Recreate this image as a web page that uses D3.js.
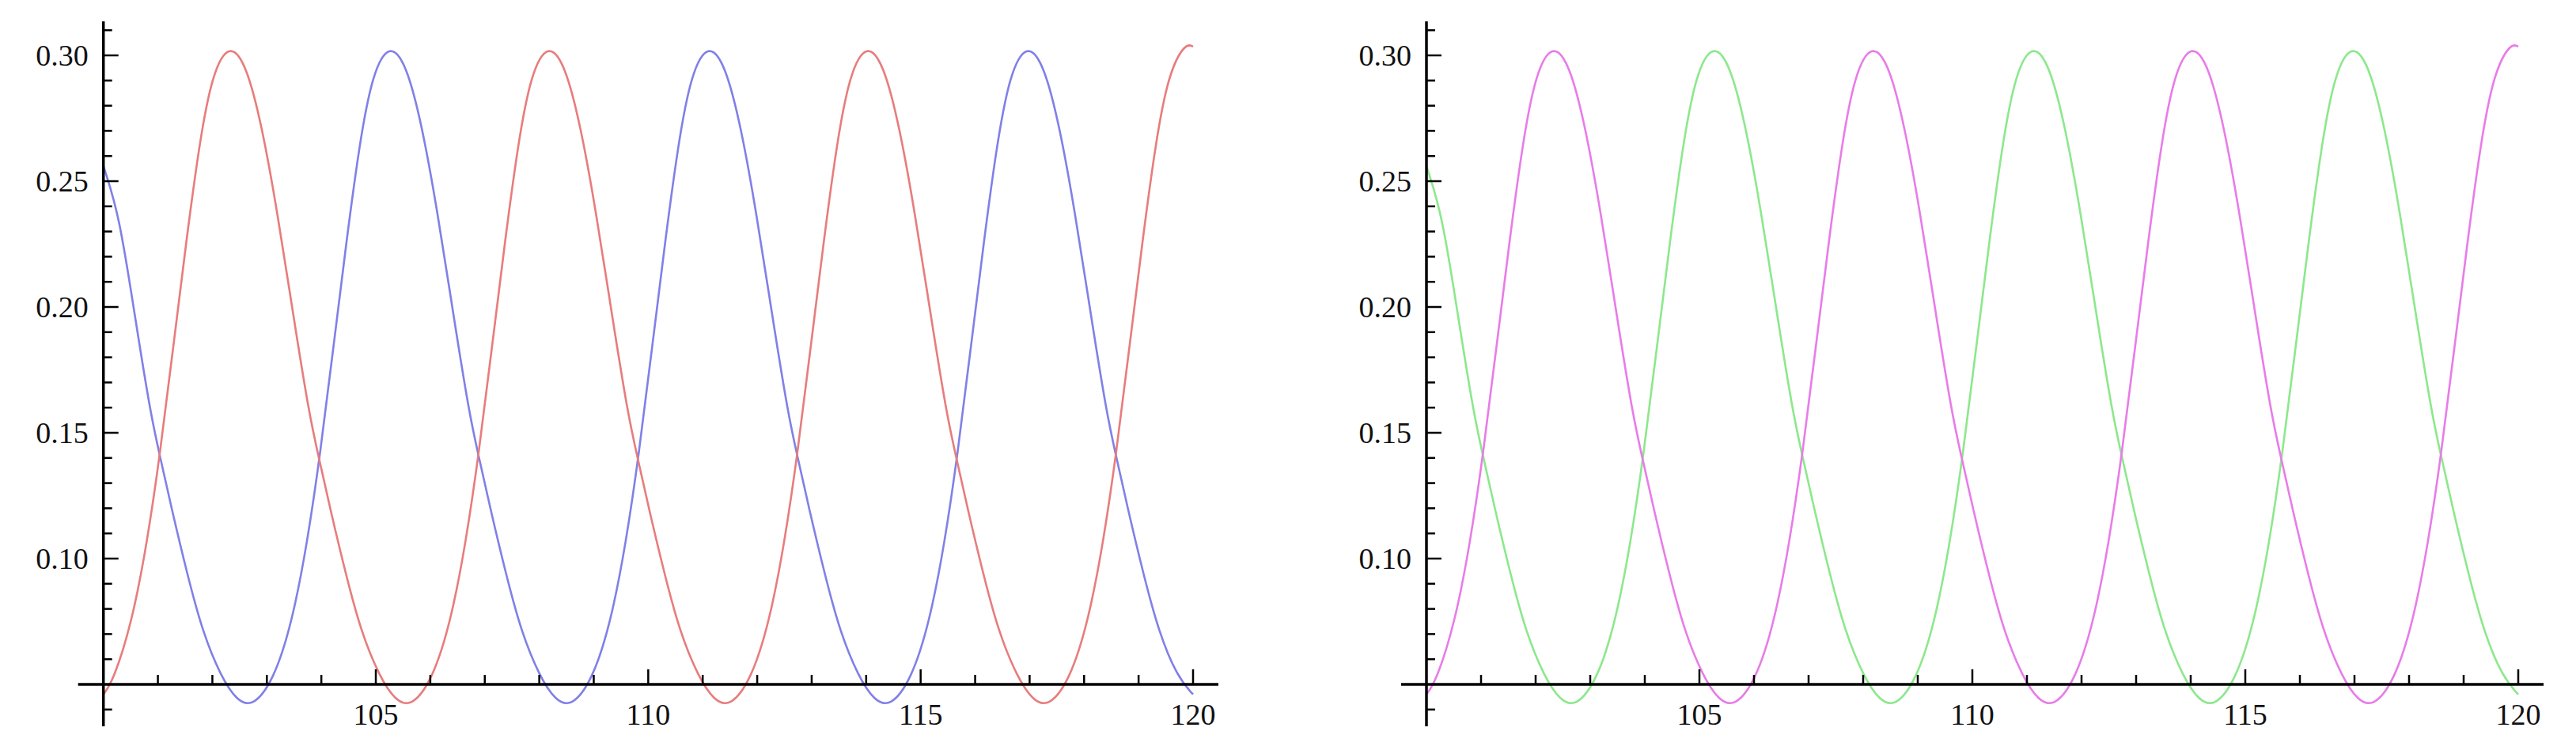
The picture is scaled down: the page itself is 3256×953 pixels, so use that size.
<!DOCTYPE html>
<html><head><meta charset="utf-8">
<script src="https://cdn.jsdelivr.net/npm/d3@7"></script>
<style>body{margin:0;background:#fff}svg{display:block}</style>
</head><body><svg id="c" width="3256" height="953"></svg>
<script>
const xTickLabels = [105, 110, 115, 120];
const yTickLabels = [0.10, 0.15, 0.20, 0.25, 0.30];
// series A (blue / green): [x, y]
const seriesA = [[100.00,.256],[100.29,.2368],[100.58,.196],[100.87,.157],[101.03,.1415],[101.25,.120],[101.54,.0937],[101.82,.0708],[102.16,.053],[102.45,.0435],[102.74,.041],
[103.12,.0514],[103.46,.0743],[103.74,.106],[103.98,.1415],[104.22,.1838],[104.46,.226],[104.70,.265],[104.94,.293],[105.25,.305],[105.56,.2967],[105.85,.272],[106.14,.2368],[106.43,.196],[106.72,.157],[106.88,.1415],[107.10,.120],[107.39,.0937],[107.67,.0708],[108.01,.053],[108.30,.0435],[108.59,.041],
[108.97,.0514],[109.31,.0743],[109.59,.106],[109.83,.1415],[110.07,.1838],[110.31,.226],[110.55,.265],[110.79,.293],[111.10,.305],[111.41,.2967],[111.70,.272],[111.99,.2368],[112.28,.196],[112.57,.157],[112.73,.1415],[112.95,.120],[113.24,.0937],[113.52,.0708],[113.86,.053],[114.15,.0435],[114.44,.041],
[114.82,.0514],[115.16,.0743],[115.44,.106],[115.68,.1415],[115.92,.1838],[116.16,.226],[116.40,.265],[116.64,.293],[116.95,.305],[117.26,.2967],[117.55,.272],[117.84,.2368],[118.13,.196],[118.42,.157],[118.58,.1415],[118.80,.120],[119.09,.0937],[119.37,.0708],[119.71,.053],[120.00,.046]];
// series B (red / magenta)
const seriesB = [[100.00,.046],[100.18,.0514],[100.52,.0743],[100.80,.106],[101.04,.1415],[101.28,.1838],[101.52,.226],[101.76,.265],[102.00,.293],[102.31,.305],[102.62,.2967],[102.91,.272],[103.20,.2368],[103.49,.196],[103.78,.157],[103.94,.1415],[104.16,.120],[104.45,.0937],[104.73,.0708],[105.07,.053],[105.36,.0435],[105.65,.041],
[106.03,.0514],[106.37,.0743],[106.65,.106],[106.89,.1415],[107.13,.1838],[107.37,.226],[107.61,.265],[107.85,.293],[108.16,.305],[108.47,.2967],[108.76,.272],[109.05,.2368],[109.34,.196],[109.63,.157],[109.79,.1415],[110.01,.120],[110.30,.0937],[110.58,.0708],[110.92,.053],[111.21,.0435],[111.50,.041],
[111.88,.0514],[112.22,.0743],[112.50,.106],[112.74,.1415],[112.98,.1838],[113.22,.226],[113.46,.265],[113.70,.293],[114.01,.305],[114.32,.2967],[114.61,.272],[114.90,.2368],[115.19,.196],[115.48,.157],[115.64,.1415],[115.86,.120],[116.15,.0937],[116.43,.0708],[116.77,.053],[117.06,.0435],[117.35,.041],
[117.73,.0514],[118.07,.0743],[118.35,.106],[118.59,.1415],[118.83,.1838],[119.07,.226],[119.31,.265],[119.55,.293],[119.86,.305],[120.00,.3035]];

const panels = [
  {x0:130.7, x1:1508, cA:"#8080e8", cB:"#e87c7c"},
  {x0:1803, x1:3183, cA:"#8ce88c", cB:"#e87ce8"}
];
const svg = d3.select("#c");
const y = d3.scaleLinear().domain([0.05, 0.30]).range([865, 70]);
panels.forEach(p => {
  const g = svg.append("g");
  const x = d3.scaleLinear().domain([100, 120]).range([p.x0, p.x1]);
  const line = d3.line().x(d => x(d[0])).y(d => y(d[1])).curve(d3.curveBasis);
  g.append("path").attr("d", line(seriesA)).attr("fill","none").attr("stroke",p.cA).attr("stroke-width",2.6);
  g.append("path").attr("d", line(seriesB)).attr("fill","none").attr("stroke",p.cB).attr("stroke-width",2.6);
  g.append("line").attr("x1",x(100)-32).attr("x2",x(120)+32).attr("y1",y(0.05)).attr("y2",y(0.05)).attr("stroke","#000").attr("stroke-width",3.5);
  g.append("line").attr("x1",x(100)).attr("x2",x(100)).attr("y1",y(0.3135)).attr("y2",y(0.0333)).attr("stroke","#000").attr("stroke-width",3.5);
  d3.range(101, 121).forEach(v => {
    const major = v % 5 === 0;
    g.append("line").attr("x1",x(v)).attr("x2",x(v)).attr("y1",y(0.05)).attr("y2",y(0.05)-(major?19:12)).attr("stroke","#000").attr("stroke-width",2.5);
  });
  xTickLabels.forEach(v => {
    g.append("text").attr("x",x(v)).attr("y",y(0.05)+51).attr("text-anchor","middle")
      .attr("font-family","Liberation Serif, Times New Roman, serif").attr("font-size",38).attr("fill","#111").text(v);
  });
  d3.range(4, 32).forEach(i => {
    const v = i/100; if (i === 5) return;
    const major = i % 5 === 0;
    g.append("line").attr("x1",x(100)).attr("x2",x(100)+(major?19:11)).attr("y1",y(v)).attr("y2",y(v)).attr("stroke","#000").attr("stroke-width",2.5);
  });
  yTickLabels.forEach(v => {
    g.append("text").attr("x",x(100)-19).attr("y",y(v)+13).attr("text-anchor","end")
      .attr("font-family","Liberation Serif, Times New Roman, serif").attr("font-size",38).attr("fill","#111").text(v.toFixed(2));
  });
});
</script></body></html>
